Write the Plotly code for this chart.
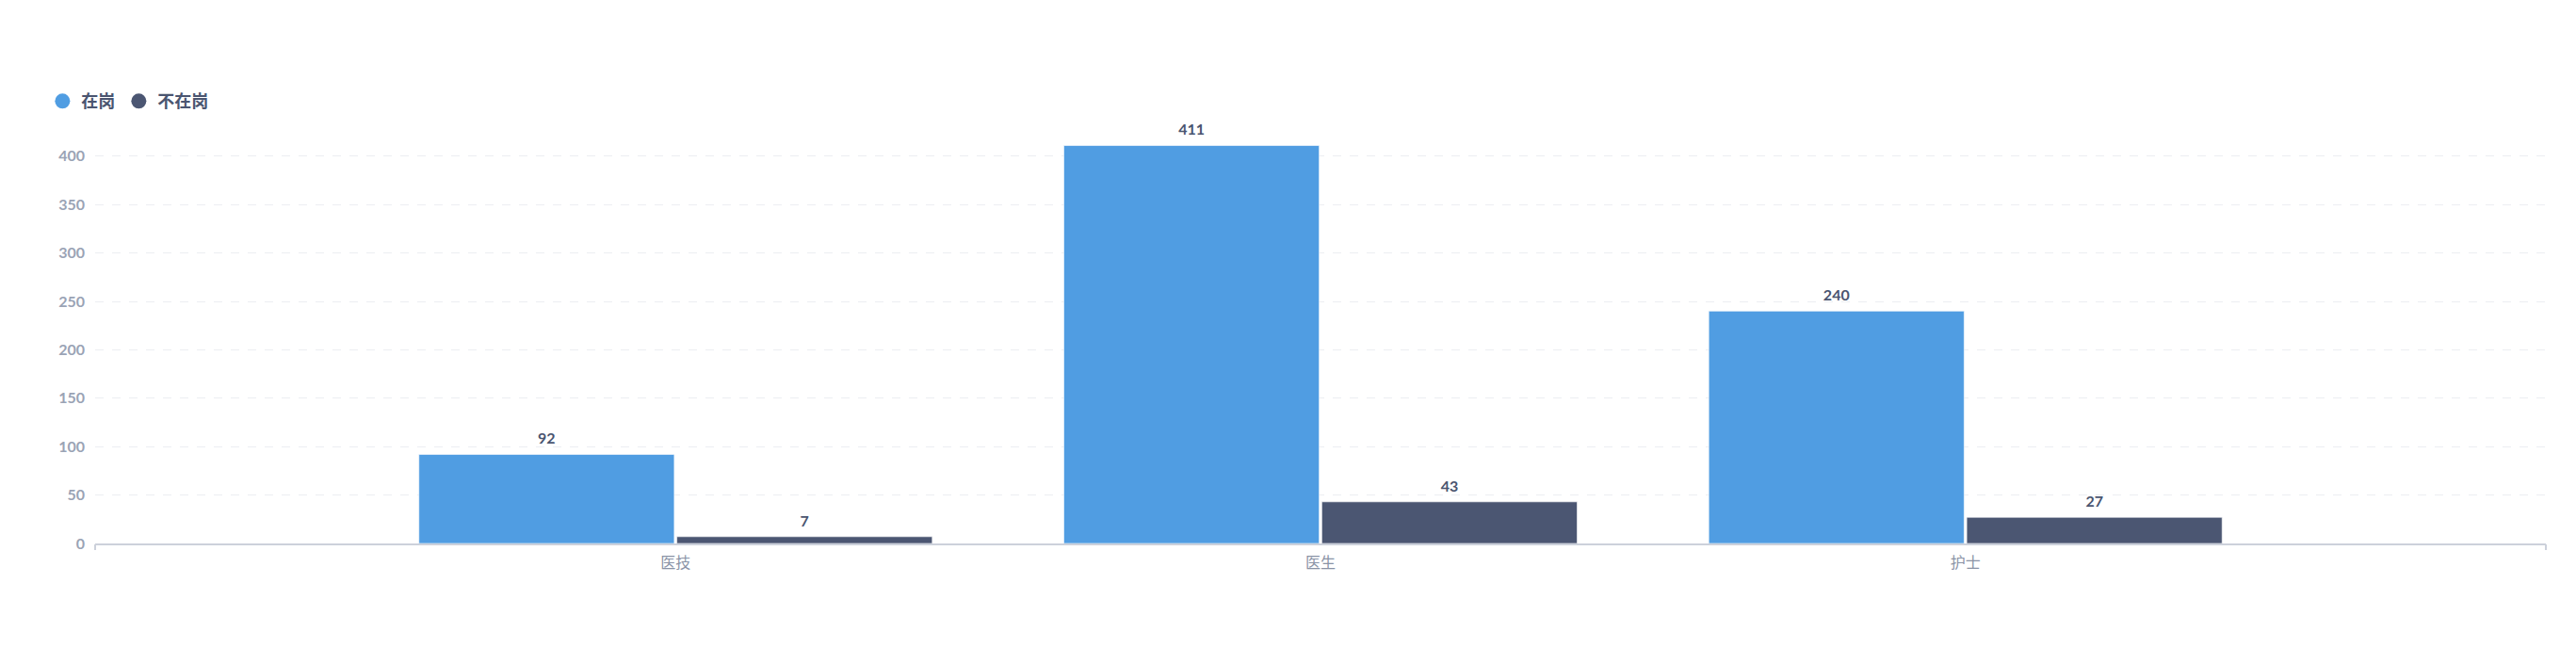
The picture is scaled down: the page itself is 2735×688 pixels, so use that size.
import plotly.graph_objects as go

categories = ["医技", "医生", "护士"]
on_duty = [92, 411, 240]
off_duty = [7, 43, 27]
series_names = ["在岗", "不在岗"]
y_ticks = [0, 50, 100, 150, 200, 250, 300, 350, 400]

BLUE = "#509de2"
DARK = "#4b5672"
FONT = "Lato, 'Noto Sans CJK SC', sans-serif"

fig = go.Figure()
series = [(series_names[0], on_duty, BLUE), (series_names[1], off_duty, DARK)]
for i, (name, vals, col) in enumerate(series):
    fig.add_trace(go.Bar(
        x=categories, y=vals, name=name, showlegend=False,
        offsetgroup=str(i),
        marker=dict(color=col, line=dict(color="rgba(255,255,255,0.6)", width=1)),
        hoverinfo="skip",
    ))
for i, (name, vals, col) in enumerate(series):
    # value labels placed above each bar
    fig.add_trace(go.Scatter(
        x=categories, y=vals, mode="markers+text", showlegend=False,
        offsetgroup=str(i),
        marker=dict(size=10, color="rgba(0,0,0,0)"),
        text=[f"<b>{v}</b>" for v in vals], textposition="top center",
        textfont=dict(family=FONT, size=16, color="#4a5570"),
        cliponaxis=False, hoverinfo="skip",
    ))
for name, vals, col in series:
    # legend proxies with circle markers
    fig.add_trace(go.Scatter(
        x=[None], y=[None], mode="markers", name=name,
        marker=dict(color=col, size=17, symbol="circle"), showlegend=True,
    ))

# axis-end ticks on an overlaid linear axis
fig.add_trace(go.Scatter(x=[None], y=[None], xaxis="x2", showlegend=False))

fig.update_layout(
    width=2719, height=672,
    margin=dict(l=93, r=24, t=127, b=103, autoexpand=False),
    paper_bgcolor="white", plot_bgcolor="white",
    barmode="group", bargap=0.2, bargroupgap=0.01,
    scattermode="group", scattergap=0.2,
    font=dict(family=FONT),
    legend=dict(
        orientation="h", x=-0.021, xanchor="left", y=1.062, yanchor="middle",
        font=dict(family=FONT, size=18, color="#4a5570", weight="bold"),
        itemsizing="trace", traceorder="normal", itemwidth=30,
    ),
    xaxis=dict(
        type="category", range=[-0.9, 2.9],
        showline=True, linecolor="#ccd1db", linewidth=1.5,
        showgrid=False, ticks="", zeroline=False,
        tickfont=dict(family=FONT, size=16, color="#8a93a6"),
        ticklabelstandoff=5,
    ),
    xaxis2=dict(
        overlaying="x", range=[-0.9, 2.9], showgrid=False, zeroline=False,
        tickvals=[-0.9, 2.9], ticks="outside", ticklen=6, tickcolor="#ccd1db",
        tickwidth=1.5, showticklabels=False, side="bottom", anchor="y",
    ),
    yaxis=dict(
        range=[0, 430], tickvals=y_ticks,
        ticktext=[f"<b>{v}</b>" for v in y_ticks],
        showgrid=True, gridcolor="#eceef2", griddash="dash", gridwidth=1,
        zeroline=False, showline=False, ticks="",
        tickfont=dict(family=FONT, size=16, color="#9aa3b5"),
        ticklabelstandoff=10,
    ),
)

fig.write_html("out.html")
